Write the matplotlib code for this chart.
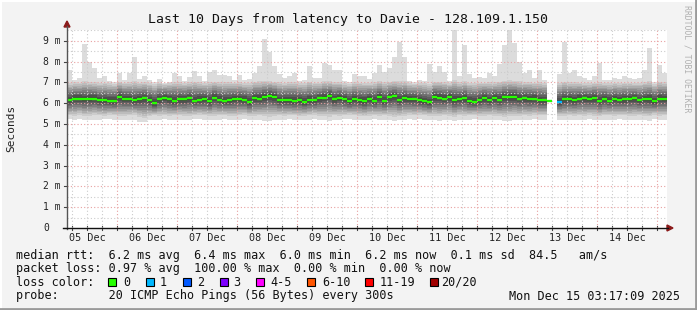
import numpy as np
import matplotlib
matplotlib.use("Agg")
import matplotlib.pyplot as plt
from matplotlib.patches import Rectangle, Polygon
from matplotlib.lines import Line2D
import matplotlib.transforms as mtransforms

W, H = 697, 310
nan = np.nan

# 2h bins, hours counted from 05 Dec 00:00
t_start = 3.9
bin_hours = 2.0

median_ms = [6.15, 6.22, 6.22, 6.20, 6.21, 6.22, 6.15, 6.15, 6.11, 6.12,
             6.30, 6.21, 6.20, 6.14, 6.20, 6.24, 6.15, 6.00, 6.18, 6.26,
             6.18, 6.12, 6.18, 6.18, 6.24, 6.13, 6.17, 6.20, 6.10, 6.27,
             6.17, 6.12, 6.15, 6.20, 6.20, 6.17, 6.05, 6.25, 6.22, 6.31,
             6.37, 6.30, 6.15, 6.15, 6.15, 6.12, 6.15, 6.07, 6.15, 6.14,
             6.23, 6.27, 6.36, 6.18, 6.26, 6.20, 6.10, 6.20, 6.15, 6.10,
             6.20, 6.12, 6.30, 6.12, 6.28, 6.33, 6.15, 6.25, 6.20, 6.20,
             6.15, 6.10, 6.05, 6.30, 6.27, 6.22, 6.31, 6.16, 6.20, 6.25,
             6.10, 6.08, 6.15, 6.25, 6.15, 6.25, 6.17, 6.28, 6.30, 6.30,
             6.22, 6.24, 6.20, 6.22, 6.14, 6.14, 6.11, nan, 6.07, 6.18,
             6.20, 6.15, 6.22, 6.25, 6.20, 6.25, 6.11, 6.22, 6.13, 6.20,
             6.16, 6.18, 6.20, 6.25, 6.14, 6.20, 6.20, 6.10, 6.22, 6.20]

max_ms = [7.6, 7.1, 7.2, 8.85, 8.0, 7.7, 7.2, 7.3, 7.05, 7.0,
          7.45, 7.1, 7.45, 8.2, 7.15, 7.3, 7.1, 7.0, 7.15, 6.95,
          7.0, 7.45, 7.3, 7.05, 7.25, 7.55, 7.3, 7.05, 7.5, 7.6,
          7.35, 7.35, 7.3, 7.1, 7.35, 7.1, 7.15, 7.45, 7.8, 9.1,
          8.45, 7.8, 7.4, 7.2, 7.3, 7.45, 7.05, 7.1, 7.8, 7.2,
          7.2, 7.95, 7.85, 7.6, 7.6, 7.05, 7.0, 7.4, 7.3, 7.3,
          7.15, 7.45, 7.85, 7.5, 7.7, 8.2, 8.95, 8.2, 7.05, 7.0,
          7.1, 7.05, 7.9, 7.5, 7.8, 7.5, 7.05, 9.6, 7.3, 8.8,
          7.4, 7.2, 7.25, 7.2, 7.45, 7.3, 7.9, 8.8, 9.6, 8.9,
          8.0, 7.45, 7.6, 7.2, 7.6, 7.1, 7.45, nan, 7.4, 8.95,
          7.45, 7.6, 7.3, 7.2, 7.1, 7.3, 7.95, 7.1, 7.1, 7.2,
          7.15, 7.3, 7.2, 7.15, 7.2, 7.6, 8.65, 7.0, 7.85, 7.45]

upper_ms = [6.95, 7.00, 6.98, 7.05, 7.02, 7.00, 6.97, 6.99, 6.95, 6.93,
            7.02, 6.98, 7.00, 7.05, 6.99, 7.01, 6.97, 6.94, 6.98, 6.93,
            6.96, 7.03, 7.00, 6.97, 7.00, 7.04, 7.00, 6.96, 7.02, 7.04,
            7.02, 7.00, 7.01, 6.98, 7.00, 6.96, 6.98, 7.03, 7.05, 7.08,
            7.06, 7.04, 7.00, 6.98, 7.00, 7.02, 6.95, 6.96, 7.04, 6.99,
            6.98, 7.06, 7.05, 7.02, 7.02, 6.95, 6.93, 7.00, 6.99, 6.98,
            6.97, 7.02, 7.05, 7.01, 7.03, 7.07, 7.08, 7.05, 6.96, 6.94,
            6.97, 6.95, 6.92, 7.03, 7.04, 7.01, 6.96, 7.10, 7.00, 7.06,
            6.98, 6.96, 6.99, 6.98, 7.01, 7.00, 7.04, 7.08, 7.10, 7.08,
            7.05, 7.02, 7.03, 6.98, 7.01, 6.96, 6.99, nan, 6.97, 7.04,
            7.00, 7.01, 6.99, 6.97, 6.95, 6.98, 7.03, 6.96, 6.95, 6.98,
            6.96, 6.99, 6.98, 6.96, 6.98, 7.02, 7.06, 6.93, 7.03, 7.00]

lower_ms = [5.42, 5.40, 5.45, 5.38, 5.40, 5.43, 5.41, 5.39, 5.44, 5.42,
            5.37, 5.40, 5.42, 5.44, 5.35, 5.30, 5.38, 5.41, 5.40, 5.42,
            5.39, 5.41, 5.43, 5.40, 5.38, 5.42, 5.44, 5.41, 5.39, 5.40,
            5.41, 5.43, 5.40, 5.38, 5.42, 5.44, 5.40, 5.39, 5.41, 5.37,
            5.36, 5.39, 5.42, 5.40, 5.43, 5.41, 5.38, 5.40, 5.42, 5.44,
            5.40, 5.38, 5.36, 5.41, 5.39, 5.42, 5.44, 5.41, 5.40, 5.38,
            5.40, 5.42, 5.37, 5.41, 5.39, 5.36, 5.38, 5.40, 5.43, 5.41,
            5.44, 5.42, 5.40, 5.38, 5.37, 5.41, 5.39, 5.36, 5.42, 5.38,
            5.41, 5.43, 5.40, 5.39, 5.42, 5.40, 5.38, 5.36, 5.37, 5.39,
            5.38, 5.41, 5.40, 5.43, 5.41, 5.42, 5.44, nan, 5.40, 5.38,
            5.41, 5.40, 5.42, 5.39, 5.43, 5.40, 5.38, 5.41, 5.42, 5.40,
            5.43, 5.41, 5.39, 5.40, 5.42, 5.38, 5.37, 5.44, 5.39, 5.41]

min_ms = [5.22, 5.20, 5.24, 5.18, 5.21, 5.19, 5.20, 5.23, 5.22, 5.20,
          5.17, 5.19, 5.21, 5.20, 5.12, 5.10, 5.18, 5.21, 5.20, 5.22,
          5.19, 5.21, 5.20, 5.18, 5.21, 5.22, 5.23, 5.20, 5.19, 5.21,
          5.20, 5.22, 5.19, 5.17, 5.21, 5.23, 5.20, 5.18, 5.20, 5.16,
          5.15, 5.18, 5.21, 5.20, 5.22, 5.19, 5.17, 5.20, 5.21, 5.23,
          5.20, 5.18, 5.16, 5.20, 5.19, 5.22, 5.23, 5.20, 5.19, 5.17,
          5.20, 5.22, 5.17, 5.20, 5.18, 5.15, 5.17, 5.19, 5.22, 5.21,
          5.23, 5.21, 5.19, 5.17, 5.16, 5.20, 5.18, 5.15, 5.21, 5.17,
          5.20, 5.22, 5.19, 5.18, 5.21, 5.19, 5.17, 5.15, 5.16, 5.18,
          5.17, 5.20, 5.19, 5.22, 5.20, 5.21, 5.23, nan, 5.19, 5.17,
          5.20, 5.19, 5.21, 5.18, 5.22, 5.19, 5.17, 5.20, 5.21, 5.19,
          5.22, 5.20, 5.18, 5.19, 5.21, 5.17, 5.16, 5.23, 5.18, 5.20]

loss_pings = [0] * 120
loss_pings[98] = 1

loss_labels = ["0", "1", "2", "3", "4-5", "6-10", "11-19", "20/20"]
loss_colors = ["#26ff00", "#00b8ff", "#0059ff", "#7e00ff",
               "#ff00ff", "#ff5500", "#ff0000", "#a10000"]

day_labels = ["05 Dec", "06 Dec", "07 Dec", "08 Dec", "09 Dec",
              "10 Dec", "11 Dec", "12 Dec", "13 Dec", "14 Dec"]

plt.rcParams['font.family'] = ['DejaVu Sans Mono']

fig = plt.figure(figsize=(W / 100, H / 100), dpi=100)
fig.patch.set_facecolor("#f3f3f3")


def fx(x):
    return x / W


def fy(y):
    return 1 - y / H


ax = fig.add_axes([fx(67), fy(228), 600 / W, 198 / H])
ax.set_facecolor("white")
ax.set_xlim(t_start, t_start + 240)
ax.set_ylim(0, 9.52)
for s in ax.spines.values():
    s.set_visible(False)

n = len(median_ms)
edges = t_start + bin_hours * np.arange(n + 1)
med = np.array(median_ms)
mx = np.array(max_ms)
hi = np.minimum(np.array(upper_ms), mx)
lo = np.array(lower_ms)
mn = np.array(min_ms)


def ext(a):
    return np.append(a, a[-1])


# smoke: outer envelope, then darker layers toward the median
ax.fill_between(edges, ext(mn), ext(mx), step="post", color="#dcdcdc", lw=0, zorder=1)
levels = 10
for k in range(levels):
    f = 1 - k / levels
    g = 0.80 - 0.55 * k / (levels - 1)
    top = med + (hi - med) * f
    bot = med - (med - lo) * f
    ax.fill_between(edges, ext(bot), ext(top), step="post",
                    color=(g, g, g), lw=0, zorder=1)

# grid
for h in np.arange(6, 250, 6):
    major = h % 24 == 0
    ax.axvline(h, color="#e8a0a0" if major else "#cccccc", lw=0.8,
               ls=(0, (1, 2)), zorder=3)
for v in np.arange(0.5, 9.6, 0.5):
    major = v % 1 == 0
    ax.axhline(v, color="#e8a0a0" if major else "#cccccc", lw=0.8,
               ls=(0, (1, 2)), zorder=3)

# median coloured by loss
for i in range(n):
    if np.isnan(med[i]):
        continue
    c = loss_colors[loss_pings[i]]
    ax.hlines(med[i], edges[i], edges[i + 1], colors=c, lw=1.7, zorder=4)

ax.set_xticks([])
ax.set_yticks([])

# axis tick labels
ytr = mtransforms.blended_transform_factory(fig.transFigure, ax.transData)
for v in range(10):
    lab = "0" if v == 0 else f"{v} m"
    ax.text(fx(43), v, lab, transform=ytr, ha="left", va="center",
            fontsize=7, color="#222222")
    ax.add_line(Line2D([fx(64), fx(67)], [v, v], transform=ytr,
                       color="#444444", lw=0.8, clip_on=False))
xtr = mtransforms.blended_transform_factory(ax.transData, fig.transFigure)
for k, lab in enumerate(day_labels):
    ax.text(12 + 24 * k, fy(238), lab, transform=xtr, ha="center",
            va="center", fontsize=7.3, color="#222222")
for h in np.arange(6, 246, 6):
    ax.add_line(Line2D([h, h], [fy(226), fy(230)], transform=xtr,
                       color="#444444", lw=0.8, clip_on=False))

# axes lines and arrows
fig.add_artist(Line2D([fx(67), fx(67)], [fy(229), fy(26)], color="#555555", lw=1))
fig.add_artist(Line2D([fx(63), fx(668)], [fy(228), fy(228)], color="#111111", lw=1))
fig.add_artist(Polygon([[fx(64), fy(27)], [fx(70), fy(27)], [fx(67), fy(21)]],
                       closed=True, color="#8b1a1a"))
fig.add_artist(Polygon([[fx(667), fy(225)], [fx(667), fy(231)], [fx(673), fy(228)]],
                       closed=True, color="#8b1a1a"))

fig.text(fx(348), fy(19), "Last 10 Days from latency to Davie - 128.109.1.150",
         ha="center", va="center", fontsize=9.5, color="#111111")
fig.text(fx(11), fy(128), "Seconds", rotation=90, ha="center", va="center",
         fontsize=8, color="#222222")
fig.text(fx(687), fy(59), "RRDTOOL / TOBI OETIKER", rotation=270, ha="center",
         va="center", fontsize=5.9, color="#b0b0b0")

row1 = "median rtt:  6.2 ms avg  6.4 ms max  6.0 ms min  6.2 ms now  0.1 ms sd  84.5   am/s"
row2 = "packet loss: 0.97 % avg  100.00 % max  0.00 % min  0.00 % now"
row4 = "probe:       20 ICMP Echo Pings (56 Bytes) every 300s"
fig.text(fx(16), fy(255), row1, va="center", fontsize=8.5, color="#111111")
fig.text(fx(16), fy(268.5), row2, va="center", fontsize=8.5, color="#111111")
fig.text(fx(16), fy(282), "loss color:", va="center", fontsize=8.5, color="#111111")
fig.text(fx(16), fy(296), row4, va="center", fontsize=8.5, color="#111111")
fig.text(fx(680), fy(296), "Mon Dec 15 03:17:09 2025", ha="right", va="center",
         fontsize=8.5, color="#111111")

box_x = [108, 145.5, 182.5, 219.5, 256, 307, 365, 430]
text_x = [123, 160, 197, 233.5, 270.5, 322, 380, 441]
for bx, tx, lab, c in zip(box_x, text_x, loss_labels, loss_colors):
    fig.add_artist(Rectangle((fx(bx), fy(286)), 8 / W, 8 / H,
                             transform=fig.transFigure, fc=c, ec="black", lw=0.8))
    fig.text(fx(tx), fy(282), lab, va="center", fontsize=8.5, color="#111111")

# 3d frame
fig.add_artist(Line2D([0, 1], [fy(0.5), fy(0.5)], color="white", lw=1.5))
fig.add_artist(Line2D([fx(0.5), fx(0.5)], [0, 1], color="white", lw=1.5))
fig.add_artist(Line2D([fx(695.5), fx(695.5)], [0, 1], color="#9a9a9a", lw=2))
fig.add_artist(Line2D([0, 1], [fy(308.5), fy(308.5)], color="#9a9a9a", lw=2))

fig.savefig("out.png", dpi=100, facecolor=fig.get_facecolor())
